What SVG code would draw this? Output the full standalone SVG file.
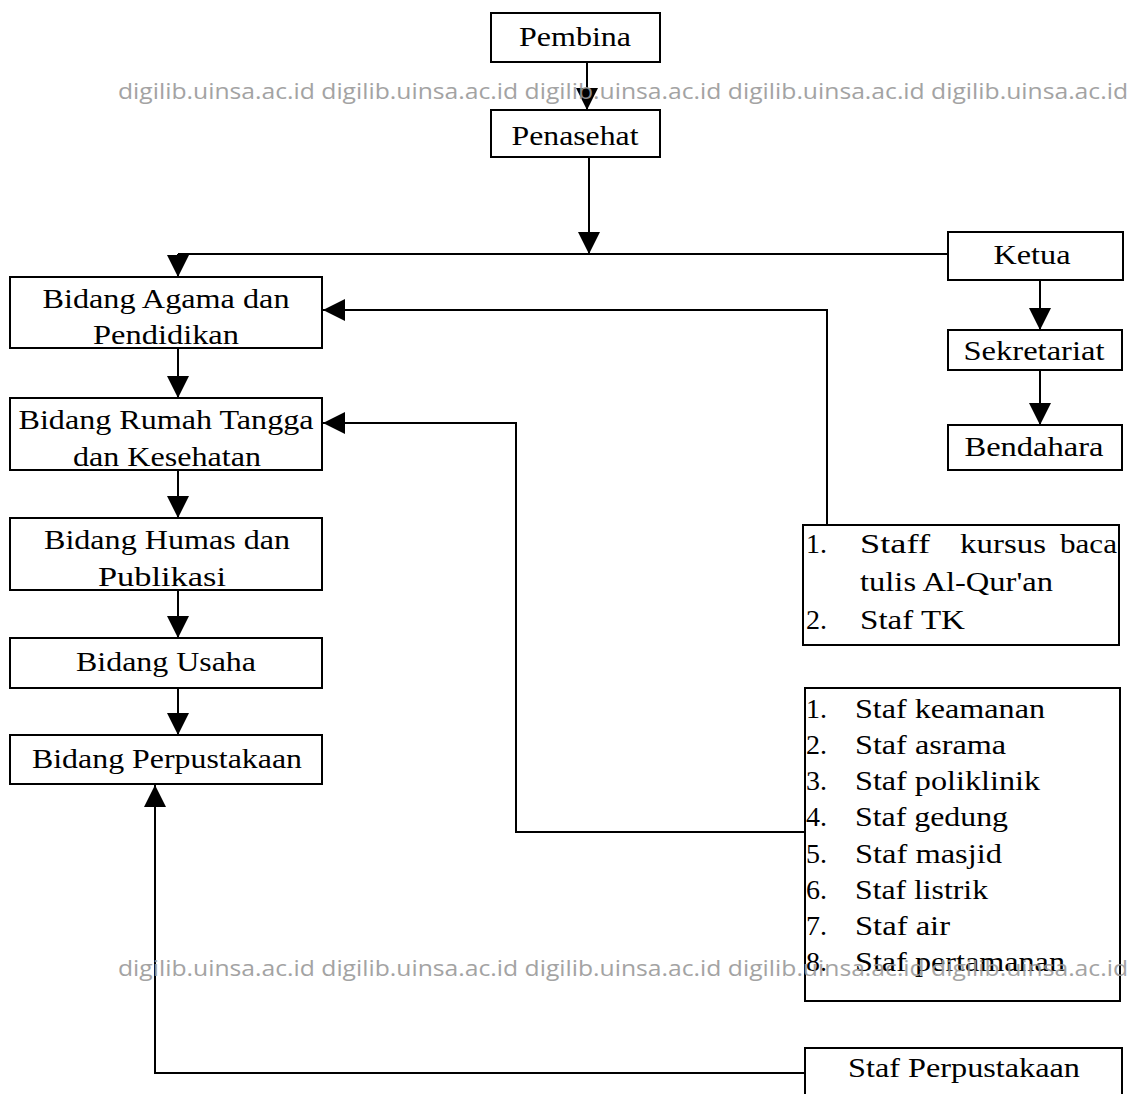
<svg xmlns="http://www.w3.org/2000/svg" width="1134" height="1094" viewBox="0 0 1134 1094">
<style>
.box{fill:#fff;stroke:#000;stroke-width:2}
.t{font-family:"Liberation Serif","Times New Roman",serif;font-size:28px;fill:#000}
.c{text-anchor:middle}
.ln{fill:none;stroke:#000;stroke-width:2}
.wm{font-family:"Open Sans","DejaVu Sans",sans-serif;font-size:22px;fill:#9a9a9a}
</style>
<defs>
<marker id="ah" markerUnits="userSpaceOnUse" markerWidth="22" markerHeight="22" viewBox="0 0 22 22" refX="22" refY="11" orient="auto">
<path d="M0,0 L22,11 L0,22 Z" fill="#000"/>
</marker>
</defs>
<rect width="1134" height="1094" fill="#fff"/>

<g id="connectors">
<line class="ln" x1="587" y1="62" x2="587" y2="110" marker-end="url(#ah)"/>
<line class="ln" x1="589" y1="157" x2="589" y2="254" marker-end="url(#ah)"/>
<line class="ln" x1="178" y1="254" x2="948" y2="254"/>
<line class="ln" x1="178" y1="254" x2="178" y2="277" marker-end="url(#ah)"/>
<line class="ln" x1="178" y1="348" x2="178" y2="398" marker-end="url(#ah)"/>
<line class="ln" x1="178" y1="470" x2="178" y2="518" marker-end="url(#ah)"/>
<line class="ln" x1="178" y1="590" x2="178" y2="638" marker-end="url(#ah)"/>
<line class="ln" x1="178" y1="688" x2="178" y2="735" marker-end="url(#ah)"/>
<line class="ln" x1="1040" y1="280" x2="1040" y2="330" marker-end="url(#ah)"/>
<line class="ln" x1="1040" y1="370" x2="1040" y2="425" marker-end="url(#ah)"/>
<path class="ln" d="M827,525 V310 H323" marker-end="url(#ah)"/>
<path class="ln" d="M805,832 H516 V423 H323" marker-end="url(#ah)"/>
<path class="ln" d="M805,1073 H155 V785" marker-end="url(#ah)"/>
</g>

<g id="pembina">
<rect class="box" x="491" y="13" width="169" height="49"/>
<text class="t c" x="575" y="46" textLength="112" lengthAdjust="spacingAndGlyphs">Pembina</text>
</g>
<g id="penasehat">
<rect class="box" x="491" y="110" width="169" height="47"/>
<text class="t c" x="575" y="145" textLength="127" lengthAdjust="spacingAndGlyphs">Penasehat</text>
</g>
<g id="ketua">
<rect class="box" x="948" y="232" width="175" height="48"/>
<text class="t c" x="1032" y="264" textLength="77" lengthAdjust="spacingAndGlyphs">Ketua</text>
</g>
<g id="sekretariat">
<rect class="box" x="948" y="330" width="174" height="40"/>
<text class="t c" x="1034" y="360" textLength="141" lengthAdjust="spacingAndGlyphs">Sekretariat</text>
</g>
<g id="bendahara">
<rect class="box" x="948" y="425" width="174" height="45"/>
<text class="t c" x="1034" y="456" textLength="139" lengthAdjust="spacingAndGlyphs">Bendahara</text>
</g>
<g id="bidang-agama">
<rect class="box" x="10" y="277" width="312" height="71"/>
<text class="t c" x="166" y="308" textLength="247" lengthAdjust="spacingAndGlyphs">Bidang Agama dan</text>
<text class="t c" x="166" y="344" textLength="146" lengthAdjust="spacingAndGlyphs">Pendidikan</text>
</g>
<g id="bidang-rumah-tangga">
<rect class="box" x="10" y="398" width="312" height="72"/>
<text class="t c" x="166" y="429" textLength="295" lengthAdjust="spacingAndGlyphs">Bidang Rumah Tangga</text>
<text class="t c" x="167" y="466" textLength="188" lengthAdjust="spacingAndGlyphs">dan Kesehatan</text>
</g>
<g id="bidang-humas">
<rect class="box" x="10" y="518" width="312" height="72"/>
<text class="t c" x="167" y="549" textLength="246" lengthAdjust="spacingAndGlyphs">Bidang Humas dan</text>
<text class="t c" x="162" y="586" textLength="128" lengthAdjust="spacingAndGlyphs">Publikasi</text>
</g>
<g id="bidang-usaha">
<rect class="box" x="10" y="638" width="312" height="50"/>
<text class="t c" x="166" y="671" textLength="180" lengthAdjust="spacingAndGlyphs">Bidang Usaha</text>
</g>
<g id="bidang-perpustakaan">
<rect class="box" x="10" y="735" width="312" height="49"/>
<text class="t c" x="167" y="768" textLength="270" lengthAdjust="spacingAndGlyphs">Bidang Perpustakaan</text>
</g>
<g id="staf-agama">
<rect class="box" x="803" y="525" width="316" height="120"/>
<text class="t" x="806" y="553">1.</text>
<text class="t" x="860" y="553" textLength="70" lengthAdjust="spacingAndGlyphs">Staff</text>
<text class="t" x="960" y="553" textLength="86" lengthAdjust="spacingAndGlyphs">kursus</text>
<text class="t" x="1060" y="553" textLength="57" lengthAdjust="spacingAndGlyphs">baca</text>
<text class="t" x="860" y="591" textLength="193" lengthAdjust="spacingAndGlyphs">tulis Al-Qur'an</text>
<text class="t" x="806" y="629">2.</text>
<text class="t" x="860" y="629" textLength="105" lengthAdjust="spacingAndGlyphs">Staf TK</text>
</g>
<g id="staf-rumah-tangga">
<rect class="box" x="805" y="688" width="315" height="313"/>
<text class="t" x="806" y="718">1.</text>
<text class="t" x="855" y="718" textLength="190" lengthAdjust="spacingAndGlyphs">Staf keamanan</text>
<text class="t" x="806" y="754">2.</text>
<text class="t" x="855" y="754" textLength="151" lengthAdjust="spacingAndGlyphs">Staf asrama</text>
<text class="t" x="806" y="790">3.</text>
<text class="t" x="855" y="790" textLength="185" lengthAdjust="spacingAndGlyphs">Staf poliklinik</text>
<text class="t" x="806" y="826">4.</text>
<text class="t" x="855" y="826" textLength="153" lengthAdjust="spacingAndGlyphs">Staf gedung</text>
<text class="t" x="806" y="863">5.</text>
<text class="t" x="855" y="863" textLength="147" lengthAdjust="spacingAndGlyphs">Staf masjid</text>
<text class="t" x="806" y="899">6.</text>
<text class="t" x="855" y="899" textLength="133" lengthAdjust="spacingAndGlyphs">Staf listrik</text>
<text class="t" x="806" y="935">7.</text>
<text class="t" x="855" y="935" textLength="95" lengthAdjust="spacingAndGlyphs">Staf air</text>
<text class="t" x="806" y="971">8.</text>
<text class="t" x="855" y="971" textLength="210" lengthAdjust="spacingAndGlyphs">Staf pertamanan</text>
</g>
<g id="staf-perpustakaan">
<rect class="box" x="805" y="1048" width="317" height="60"/>
<text class="t" x="848" y="1077" textLength="232" lengthAdjust="spacingAndGlyphs">Staf Perpustakaan</text>
</g>

<g id="watermark" opacity="0.9">
<text class="wm" x="118" y="99" textLength="1010" lengthAdjust="spacingAndGlyphs">digilib.uinsa.ac.id digilib.uinsa.ac.id digilib.uinsa.ac.id digilib.uinsa.ac.id digilib.uinsa.ac.id</text>
<text class="wm" x="118" y="976" textLength="1010" lengthAdjust="spacingAndGlyphs">digilib.uinsa.ac.id digilib.uinsa.ac.id digilib.uinsa.ac.id digilib.uinsa.ac.id digilib.uinsa.ac.id</text>
</g>
</svg>
